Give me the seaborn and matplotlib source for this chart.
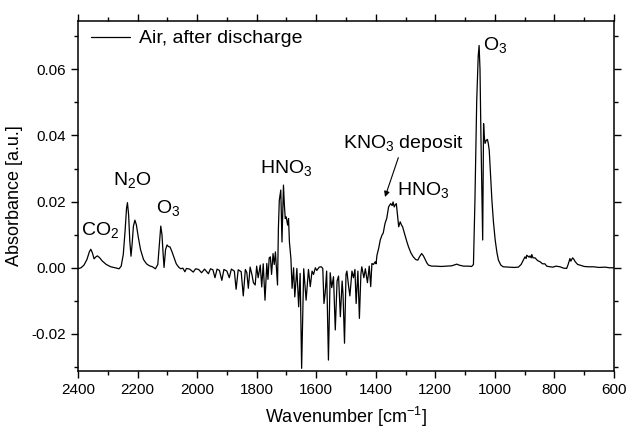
import numpy as np
import pandas as pd
import matplotlib
matplotlib.use("Agg")
import matplotlib.pyplot as plt
import seaborn as sns
from matplotlib.ticker import MultipleLocator, FormatStrFormatter

# spectrum
wavenumber = [
    2400, 2390, 2380, 2370, 2362, 2357, 2352, 2346, 2340, 2335, 2328, 2318, 2305, 2290, 2275,
    2262, 2255, 2248, 2242, 2237, 2234, 2230, 2226, 2222, 2218, 2214, 2209, 2204, 2198, 2190,
    2180, 2170, 2160, 2150, 2140, 2132, 2127, 2122, 2118, 2114, 2111, 2106, 2101, 2096, 2091,
    2085, 2078, 2070, 2062, 2055, 2048, 2041, 2036, 2025, 2013, 2005, 1995, 1985, 1975, 1962,
    1955, 1947, 1940, 1933, 1925, 1917, 1910, 1900, 1892, 1885, 1875, 1869, 1862, 1852, 1845,
    1838, 1833, 1828, 1822, 1816, 1811, 1805, 1800, 1795, 1788, 1783, 1778, 1772, 1766, 1762,
    1758, 1754, 1750, 1745, 1741, 1737, 1730, 1727, 1724, 1719, 1715, 1710, 1707, 1704, 1701,
    1696, 1693, 1690, 1685, 1681, 1676, 1672, 1665, 1659, 1654, 1649, 1642, 1634, 1626, 1620,
    1614, 1609, 1603, 1598, 1590, 1583, 1578, 1574, 1570, 1565, 1559, 1553, 1548, 1542, 1536,
    1530, 1525, 1519, 1513, 1510, 1505, 1500, 1497, 1492, 1487, 1480, 1475, 1470, 1466, 1460,
    1455, 1450, 1447, 1440, 1435, 1428, 1422, 1417, 1413, 1408, 1402, 1399, 1396, 1390, 1385,
    1379, 1375, 1369, 1363, 1357, 1350, 1345, 1342, 1338, 1335, 1331, 1327, 1323, 1318, 1314,
    1310, 1302, 1296, 1290, 1282, 1274, 1266, 1259, 1252, 1246, 1240, 1234, 1228, 1223, 1212,
    1201, 1180, 1160, 1145, 1135, 1128, 1120, 1105, 1090, 1078, 1072, 1067, 1061, 1056, 1053,
    1050, 1047, 1043, 1041, 1039, 1038, 1036, 1033, 1029, 1025, 1022, 1019, 1015, 1010, 1005,
    999, 993, 988, 980, 972, 950, 935, 921, 912, 905, 899, 895, 893, 888, 885,
    882, 878, 876, 872, 865, 857, 848, 840, 832, 826, 815, 805, 795, 781, 770,
    759, 754, 748, 745, 739, 735, 730, 722, 714, 700, 685, 669, 650, 630, 615,
    602, 600,
]
absorbance = [
    -0.0003, 0.0000, 0.0008, 0.0025, 0.0048, 0.0056, 0.0046, 0.0027, 0.0033, 0.0036, 0.0031, 0.0020, 0.0010, 0.0003, 0.0000,
    -0.0003, 0.0005, 0.0040, 0.0110, 0.0180, 0.0197, 0.0160, 0.0080, 0.0035, 0.0075, 0.0125, 0.0144, 0.0130, 0.0095, 0.0055,
    0.0025, 0.0012, 0.0006, 0.0003, -0.0003, 0.0010, 0.0070, 0.0126, 0.0100, 0.0040, 0.0001, 0.0055, 0.0069, 0.0064, 0.0063,
    0.0050, 0.0032, 0.0012, 0.0002, -0.0003, -0.0001, -0.0012, -0.0002, -0.0004, -0.0013, -0.0003, -0.0005, -0.0015, -0.0004, -0.0018,
    -0.0003, -0.0006, -0.0030, -0.0004, -0.0008, -0.0038, -0.0005, -0.0010, -0.0030, -0.0004, -0.0010, -0.0065, -0.0006, -0.0012, -0.0085,
    -0.0005, -0.0015, -0.0062, 0.0002, -0.0020, -0.0045, -0.0052, 0.0005, -0.0030, 0.0008, -0.0058, 0.0012, -0.0098, 0.0013, -0.0035,
    0.0030, 0.0033, -0.0020, 0.0043, 0.0010, 0.0048, -0.0052, 0.0120, 0.0204, 0.0235, 0.0078, 0.0250, 0.0190, 0.0149, 0.0154,
    0.0129, 0.0149, 0.0078, 0.0028, -0.0062, 0.0000, -0.0088, -0.0002, -0.0118, -0.0017, -0.0304, -0.0003, -0.0098, -0.0005, -0.0057,
    -0.0010, -0.0020, 0.0000, -0.0008, 0.0002, 0.0003, -0.0002, -0.0108, -0.0077, -0.0010, -0.0279, -0.0015, -0.0060, -0.0027, -0.0188,
    -0.0040, -0.0025, -0.0148, -0.0040, -0.0080, -0.0228, -0.0020, -0.0010, -0.0050, -0.0085, -0.0010, -0.0030, -0.0005, -0.0108, -0.0010,
    -0.0153, -0.0020, 0.0003, -0.0030, -0.0003, -0.0045, 0.0005, -0.0057, 0.0013, 0.0010, 0.0018, 0.0012, 0.0038, 0.0060, 0.0084,
    0.0099, 0.0105, 0.0134, 0.0150, 0.0184, 0.0194, 0.0188, 0.0199, 0.0184, 0.0190, 0.0194, 0.0160, 0.0124, 0.0139, 0.0130,
    0.0124, 0.0099, 0.0080, 0.0063, 0.0045, 0.0033, 0.0025, 0.0023, 0.0035, 0.0043, 0.0036, 0.0025, 0.0014, 0.0008, 0.0005,
    0.0005, 0.0004, 0.0005, 0.0006, 0.0009, 0.0011, 0.0008, 0.0005, 0.0005, 0.0004, 0.0010, 0.0204, 0.0506, 0.0640, 0.0672,
    0.0600, 0.0406, 0.0200, 0.0084, 0.0300, 0.0436, 0.0400, 0.0376, 0.0385, 0.0388, 0.0375, 0.0355, 0.0290, 0.0204, 0.0140,
    0.0084, 0.0045, 0.0023, 0.0008, 0.0003, 0.0002, 0.0001, 0.0002, 0.0010, 0.0022, 0.0033, 0.0028, 0.0038, 0.0034, 0.0032,
    0.0036, 0.0030, 0.0040, 0.0030, 0.0030, 0.0022, 0.0018, 0.0012, 0.0012, 0.0005, 0.0003, 0.0002, 0.0005, 0.0003, -0.0001,
    -0.0002, 0.0010, 0.0028, 0.0020, 0.0030, 0.0026, 0.0018, 0.0010, 0.0008, 0.0004, 0.0003, 0.0003, 0.0001, 0.0002, 0.0000,
    0.0000, 0.0000,
]

# peak labels: text, wavenumber of left edge, absorbance of baseline
label_text = ["CO$_2$", "N$_2$O", "O$_3$", "HNO$_3$", "HNO$_3$", "O$_3$"]
label_wn = [2390, 2282, 2138, 1789, 1330, 1041]
label_ab = [0.0098, 0.0250, 0.0165, 0.0286, 0.0220, 0.0657]

df = pd.DataFrame({"wn": wavenumber, "ab": absorbance})

sns.set_style("ticks")
plt.rcParams["font.family"] = ["Liberation Sans", "DejaVu Sans"]
plt.rcParams["mathtext.fontset"] = "custom"
plt.rcParams["mathtext.rm"] = "Liberation Sans"
plt.rcParams["mathtext.it"] = "Liberation Sans:italic"
plt.rcParams["axes.unicode_minus"] = False
for k in ["text.color", "axes.labelcolor", "xtick.color", "ytick.color", "axes.edgecolor"]:
    plt.rcParams[k] = "black"

fig, ax = plt.subplots(figsize=(6.27, 4.32), dpi=100)
fig.subplots_adjust(left=78 / 627, right=614 / 627, top=1 - 21 / 432, bottom=1 - 371 / 432)

sns.lineplot(data=df, x="wn", y="ab", ax=ax, color="black", lw=0.9,
             estimator=None, sort=False, label="Air, after discharge")

ax.set_xlim(2400, 600)
ax.set_ylim(-0.0312, 0.0746)
ax.xaxis.set_major_locator(MultipleLocator(200))
ax.xaxis.set_minor_locator(MultipleLocator(100))
ax.yaxis.set_major_locator(MultipleLocator(0.02))
ax.yaxis.set_minor_locator(MultipleLocator(0.01))
ax.yaxis.set_major_formatter(FormatStrFormatter("%.2f"))

for s in ax.spines.values():
    s.set_visible(True)
    s.set_linewidth(1.1)
    s.set_color("black")
ax.tick_params(which="both", direction="out", top=True, right=True, width=1.0,
               labelsize=11, colors="black")
ax.tick_params(which="major", length=5)
ax.tick_params(which="minor", length=3)

ax.set_xlabel("Wavenumber [cm$^{-1}$]", fontsize=13, labelpad=6)
ax.set_ylabel("Absorbance [a.u.]", fontsize=13, labelpad=6)

for t, x, y in zip(label_text, label_wn, label_ab):
    ax.text(x, y, t, fontsize=14, ha="left", va="baseline")

ax.annotate("KNO$_3$ deposit", xy=(1369, 0.0214), xytext=(1511, 0.0361),
            fontsize=14, ha="left", va="baseline",
            arrowprops=dict(arrowstyle="-|>", color="black", lw=0.8,
                            shrinkA=0, shrinkB=0, mutation_scale=8),
            annotation_clip=False)

leg = ax.legend(loc="upper left", bbox_to_anchor=(0.024, 0.975), frameon=False,
                fontsize=14, handlelength=2.0, handletextpad=0.5,
                borderpad=0, borderaxespad=0)

fig.savefig("out.png", dpi=100)
